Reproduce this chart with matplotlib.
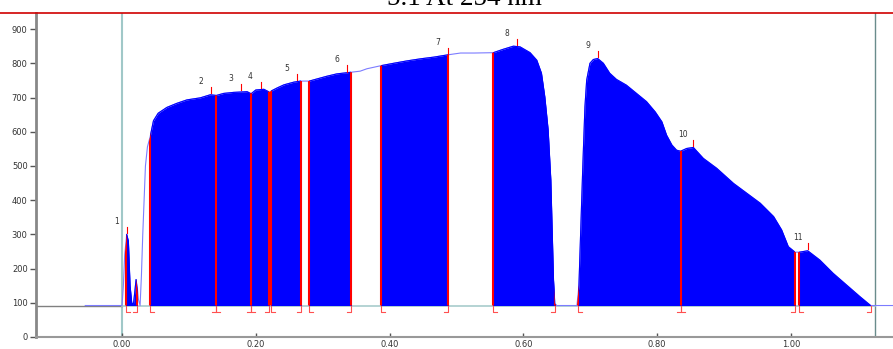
import numpy as np
import matplotlib
matplotlib.use("Agg")
import matplotlib.pyplot as plt
from matplotlib.lines import Line2D
from matplotlib.patches import Rectangle

# chromatogram trace (retention time, signal)
x_trace = [-0.055, 0.000, 0.002, 0.004, 0.007, 0.0095, 0.012, 0.0145, 0.017, 0.019,
           0.021, 0.023, 0.0245, 0.027, 0.029, 0.031, 0.033, 0.035, 0.038, 0.042,
           0.047, 0.054, 0.067, 0.082, 0.097, 0.117, 0.132, 0.141, 0.152, 0.167,
           0.187, 0.193, 0.200, 0.212, 0.220, 0.232, 0.242, 0.257, 0.267, 0.280,
           0.291, 0.306, 0.321, 0.343, 0.356, 0.366, 0.387, 0.406, 0.426, 0.446,
           0.466, 0.488, 0.506, 0.526, 0.555, 0.570, 0.585, 0.595, 0.610, 0.620,
           0.627, 0.632, 0.637, 0.641, 0.643, 0.645, 0.647, 0.650, 0.680, 0.683,
           0.686, 0.689, 0.692, 0.6946, 0.6995, 0.7045, 0.711, 0.7195, 0.729, 0.739,
           0.754, 0.769, 0.784, 0.797, 0.807, 0.814, 0.822, 0.829, 0.835, 0.844,
           0.854, 0.869, 0.889, 0.914, 0.934, 0.954, 0.974, 0.986, 0.996, 1.006,
           1.013, 1.025, 1.043, 1.063, 1.083, 1.103, 1.119, 1.155]
y_trace = [92, 92, 150, 240, 300, 280, 150, 100, 95, 130,
           168, 140, 110, 92, 180, 300, 400, 500, 556, 585,
           632, 654, 671, 683, 693, 699, 708, 706, 712, 715,
           717, 711, 722, 724, 716, 728, 737, 745, 748, 748,
           754, 762, 769, 774, 777, 784, 793, 800, 807, 813,
           818, 825, 830, 830, 831, 841, 850, 848, 831, 809,
           771, 702, 605, 459, 313, 167, 98, 92, 92, 150,
           330, 510, 673, 751, 800, 811, 814, 800, 771, 753,
           736, 712, 688, 658, 629, 590, 561, 546, 543, 551,
           554, 522, 493, 449, 420, 391, 352, 313, 264, 248,
           248, 252, 225, 186, 152, 118, 92, 92]

baseline = 92

# integrated peaks
peak_labels = ["1", "2", "3", "4", "5", "6", "7", "8", "9", "10", "11"]
peak_start = [0.0065, 0.042, 0.141, 0.193, 0.222, 0.280, 0.387, 0.555, 0.681, 0.835, 1.012]
peak_end = [0.022, 0.141, 0.193, 0.219, 0.268, 0.343, 0.488, 0.647, 0.835, 1.006, 1.119]
apex_x = [0.007, 0.133, 0.178, 0.207, 0.261, 0.337, 0.487, 0.591, 0.711, 0.854, 1.025]
apex_y = [300, 708, 717, 724, 747, 772, 824, 849, 814, 554, 252]

x_ticks = [0.0, 0.2, 0.4, 0.6, 0.8, 1.0]
y_ticks = [0, 100, 200, 300, 400, 500, 600, 700, 800, 900]

fig = plt.figure(figsize=(8.93, 3.49), dpi=100)
ax = fig.add_axes([36 / 893, 12 / 349, 1 - 36 / 893, 324 / 349])
ax.set_xlim(-0.1286, 1.1525)
ax.set_ylim(0, 947)

# baseline
ax.plot([-0.1286, 0.0], [baseline, baseline], color="#808080", lw=1.0, zorder=1)
ax.plot([0.0, 1.126], [baseline, baseline], color="#a8cccc", lw=1.2, zorder=1)

# raw trace (light where not integrated)
ax.plot(x_trace, y_trace, color="#7c7cff", lw=0.8, zorder=2)

# filled peak areas, clipped to each integration window
for s, e in zip(peak_start, peak_end):
    poly = ax.fill_between(x_trace, baseline, y_trace, color="#0000ff", lw=0, zorder=3)
    poly.set_clip_path(Rectangle((s, 0), e - s, 1000, transform=ax.transData))
    ln, = ax.plot(x_trace, y_trace, color="#0000ff", lw=0.8, zorder=3)
    ln.set_clip_path(Rectangle((s, 0), e - s, 1000, transform=ax.transData))

# drop lines, clipped to the area under the trace
area = ax.fill_between(x_trace, baseline, y_trace, color="none", lw=0)
bounds = sorted(set(peak_start + peak_end))
drops = ax.vlines(bounds, baseline, 950, color="#ff0000", lw=1.5, zorder=4)
drops.set_clip_path(area.get_paths()[0], ax.transData)

# integration markers under the baseline
for s in peak_start:
    ax.plot([s, s, s + 0.006], [baseline, 72, 72], color="#ff5050", lw=0.8, zorder=4)
for e in peak_end:
    ax.plot([e, e, e - 0.006], [baseline, 72, 72], color="#ff5050", lw=0.8, zorder=4)

# apex ticks and peak numbers
for lab, px, py in zip(peak_labels, apex_x, apex_y):
    ax.plot([px, px], [py + 4, py + 22], color="#ff0000", lw=0.8, zorder=4)
    ax.text(px - 0.015, py + 38, lab, fontsize=5.5, color="#333333",
            ha="center", va="center")

# start / end markers
ax.axvline(0.0, color="#a0c8c8", lw=1.5, zorder=0)
ax.axvline(1.126, color="#6a8c8c", lw=1.0, zorder=0)

ax.set_xticks(x_ticks)
ax.set_xticklabels([f"{v:.2f}" for v in x_ticks])
ax.set_yticks(y_ticks)
ax.tick_params(axis="y", direction="out", length=4, width=1, colors="#555555",
               labelsize=6, labelcolor="#333333", pad=2)
ax.tick_params(axis="x", direction="in", length=3, width=1, colors="#555555",
               labelsize=6, labelcolor="#333333", pad=2)

for side in ["top", "right"]:
    ax.spines[side].set_visible(False)
ax.spines["left"].set_color("#888888")
ax.spines["left"].set_linewidth(2)
ax.spines["bottom"].set_color("#999999")
ax.spines["bottom"].set_linewidth(1.5)

# title and red rule across the top
fig.add_artist(Line2D([0, 1], [1 - 13 / 349, 1 - 13 / 349], color="#d00000", lw=1.2))
fig.text(464 / 893, 1 - 5 / 349, "5.1 At 254 nm", family="Liberation Serif",
         fontsize=19.5, ha="center", va="baseline", color="black")

fig.savefig("out.png", dpi=100)
